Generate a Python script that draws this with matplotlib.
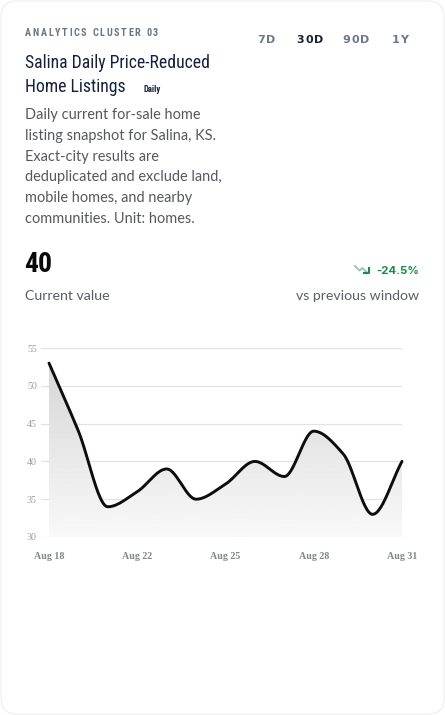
import numpy as np
import matplotlib.pyplot as plt
from matplotlib import font_manager
from matplotlib.patches import FancyBboxPatch, Polygon

# data
dates = ['Aug 18', 'Aug 19', 'Aug 21', 'Aug 22', 'Aug 23', 'Aug 24', 'Aug 25',
         'Aug 26', 'Aug 27', 'Aug 28', 'Aug 29', 'Aug 30', 'Aug 31']
values = [53, 44, 34, 36, 39, 35, 37, 40, 38, 44, 41, 33, 40]
tick_idx = [0, 3, 6, 9, 12]
y_ticks = [30, 35, 40, 45, 50, 55]
tabs = ['7D', '30D', '90D', '1Y']
desc = ['Daily current for-sale home', 'listing snapshot for Salina, KS.',
        'Exact-city results are', 'deduplicated and exclude land,',
        'mobile homes, and nearby', 'communities. Unit: homes.']

fonts = font_manager.fontManager.ttflist
names = {f.name for f in fonts}
COND = 'Roboto'
COND_STRETCH = 'normal'
for cand in ['Liberation Sans Narrow', 'Roboto Condensed', 'DejaVu Sans Condensed']:
    if cand in names:
        COND = cand
        break
else:
    if any(f.name == 'DejaVu Sans' and f.stretch in ('condensed', 600) for f in fonts):
        COND, COND_STRETCH = 'DejaVu Sans', 'condensed'
BODY = 'Lato' if 'Lato' in names else 'Inter'
SERIF = 'Liberation Serif'


def monotone(x, y, n=30):
    # monotone cubic (Fritsch-Carlson), like d3 curveMonotoneX
    x = np.asarray(x, float)
    y = np.asarray(y, float)
    h = np.diff(x)
    s = np.diff(y) / h
    m = np.zeros_like(y)
    m[0], m[-1] = s[0], s[-1]
    for i in range(1, len(y) - 1):
        if s[i - 1] * s[i] <= 0:
            m[i] = 0
        else:
            m[i] = 3 * (h[i - 1] + h[i]) / ((2 * h[i] + h[i - 1]) / s[i - 1] + (h[i] + 2 * h[i - 1]) / s[i])
    xs, ys = [], []
    for i in range(len(h)):
        t = np.linspace(0, 1, n, endpoint=(i == len(h) - 1))
        h00 = 2 * t**3 - 3 * t**2 + 1
        h10 = t**3 - 2 * t**2 + t
        h01 = -2 * t**3 + 3 * t**2
        h11 = t**3 - t**2
        xs.append(x[i] + t * h[i])
        ys.append(h00 * y[i] + h10 * h[i] * m[i] + h01 * y[i + 1] + h11 * h[i] * m[i + 1])
    return np.concatenate(xs), np.concatenate(ys)


fig = plt.figure(figsize=(4.45, 7.15), dpi=100)
bg = fig.add_axes([0, 0, 1, 1])
bg.set_xlim(0, 445)
bg.set_ylim(715, 0)
bg.axis('off')
bg.add_patch(FancyBboxPatch((1, 1), 443, 713, boxstyle='round,pad=0,rounding_size=16',
                            fc='white', ec='#f1f1f1', lw=1))

renderer = fig.canvas.get_renderer()


def width_of(s, **kw):
    t = bg.text(0, 0, s, **kw)
    w = t.get_window_extent(renderer).width
    t.remove()
    return w


def spaced(x, y, s, track, **kw):
    for ch in s:
        t = bg.text(x, y, ch, va='center', ha='left', **kw)
        x += t.get_window_extent(renderer).width + track
    return x


def fit_size(s, target, size, **kw):
    return size * target / width_of(s, fontsize=size, **kw)


cond = dict(family=COND, fontstretch=COND_STRETCH)

# header kicker, stretched out to its width in the reference
kw = dict(fontsize=7.3, fontweight='bold', color='#6b7385', **cond)
w0 = sum(width_of(c, **kw) for c in 'ANALYTICS CLUSTER 03')
spaced(25, 33, 'ANALYTICS CLUSTER 03', (133 - w0) / 19, **kw)

ts = fit_size('Salina Daily Price-Reduced', 186, 14, **cond)
bg.text(25, 63, 'Salina Daily Price-Reduced', fontsize=ts, color='#14213d',
        va='center', ha='left', **cond)
bg.text(25, 87, 'Home Listings', fontsize=ts, color='#14213d',
        va='center', ha='left', **cond)
bg.text(143, 89, 'Daily', fontsize=6.3, fontweight='bold', color='#14213d',
        va='center', ha='left', **cond)

tab_x = [266, 310, 356, 400]
for tx, lab in zip(tab_x, tabs):
    col = '#1a2233' if lab == '30D' else '#6b7890'
    w = width_of(lab, fontsize=8, fontweight='bold', family='DejaVu Sans') + 1.0 * (len(lab) - 1)
    spaced(tx - w / 2, 40, lab, 1.0, fontsize=8, fontweight='bold',
           family='DejaVu Sans', color=col)

ds = fit_size('deduplicated and exclude land,', 198, 10.5, family=BODY)
for i, line in enumerate(desc):
    bg.text(25, 115 + i * 20.8, line, fontsize=ds, family=BODY, color='#55585f',
            va='center', ha='left')

ns = fit_size('40', 28, 19, fontweight='bold', **cond)
bg.text(24, 265, '40', fontsize=ns, fontweight='bold', color='#0a0a0a',
        va='center', ha='left', **cond)
ls = fit_size('vs previous window', 123, 9.5, family=BODY)
bg.text(25, 296, 'Current value', fontsize=ls, family=BODY, color='#5a5e66',
        va='center', ha='left')
bg.text(419, 296, 'vs previous window', fontsize=ls, family=BODY, color='#5a5e66',
        va='center', ha='right')
ps = fit_size('-24.5%', 43, 9.3, family='Inter', fontweight='bold')
bg.text(419, 271, '-24.5%', fontsize=ps, family='Inter', fontweight='bold', color='#1f8a4c',
        va='center', ha='right')
bg.plot([355, 359.5, 362.5, 367], [266, 270.5, 268, 272.5], color='#8fcaa6', lw=1.3)
bg.plot([364, 369, 369], [272.5, 272.5, 268], color='#1f8a4c', lw=1.5)

# chart
L, R, T, B = 41, 402, 348, 537
ax = fig.add_axes([L / 445, 1 - B / 715, (R - L) / 445, (B - T) / 715])
x = np.arange(len(values))
px = (R - L) / ((len(values) - 1) + 8 / 29.42)
x0 = -8 / px
for s in ax.spines.values():
    s.set_visible(False)
ax.set_yticks(y_ticks)
ax.set_yticklabels([str(v) for v in y_ticks], family=SERIF, fontsize=7.2, color='#9a9ea6')
ax.set_xticks(tick_idx)
ax.set_xticklabels([dates[i] for i in tick_idx], family=SERIF, fontsize=7.2,
                   fontweight='bold', color='#808590')
ax.tick_params(length=0, axis='y', pad=3)
ax.tick_params(length=0, axis='x', pad=10.5)
ax.grid(axis='y', color='#e3e3e3', lw=0.9)
ax.set_axisbelow(True)

sx, sy = monotone(x, values)
poly = Polygon(np.column_stack([np.r_[sx, sx[-1], sx[0]], np.r_[sy, 30, 30]]),
               closed=True, fc='none', ec='none')
ax.add_patch(poly)
grad = np.linspace(0.84, 0.975, 256).reshape(-1, 1)
im = ax.imshow(grad, extent=[0, len(values) - 1, 30, 53], origin='upper', cmap='gray',
               vmin=0, vmax=1, aspect='auto', zorder=1)
im.set_clip_path(poly)
ax.set_ylim(30, 55)
ax.set_xlim(x0, len(values) - 1)
ax.plot(sx, sy, color='#0d0d0d', lw=2.1, solid_capstyle='round', zorder=3, clip_on=False)

fig.savefig('out.png', dpi=100)
